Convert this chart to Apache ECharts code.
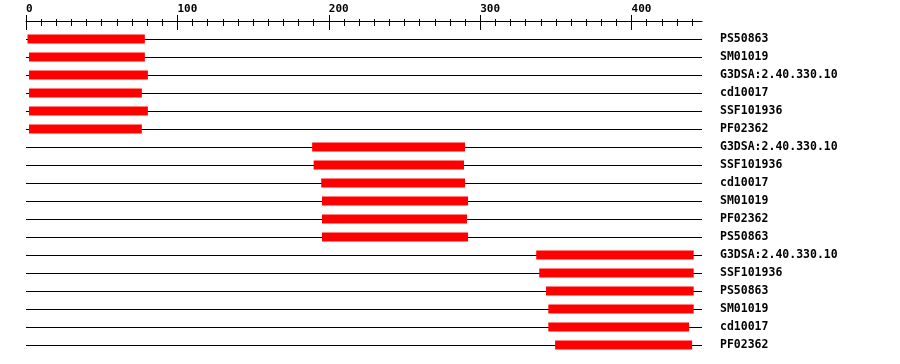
<!DOCTYPE html>
<html><head><meta charset="utf-8">
<script src="https://cdn.jsdelivr.net/npm/echarts@6/dist/echarts.min.js"></script>
<style>html,body{margin:0;padding:0;background:#fff}#c{width:900px;height:364px}</style>
</head><body><div id="c"></div>
<script>
const labels = ["PS50863","SM01019","G3DSA:2.40.330.10","cd10017","SSF101936","PF02362",
  "G3DSA:2.40.330.10","SSF101936","cd10017","SM01019","PF02362","PS50863",
  "G3DSA:2.40.330.10","SSF101936","PS50863","SM01019","cd10017","PF02362"];
const starts = [1,2,2,2,2,2, 189,190,195,195.5,195.5,195.5, 337,339,343.5,345,345,349.5];
const ends   = [78.5,78.5,80.5,76.5,80.5,76.5, 290,289.3,290,292,291.3,292, 441,441,441,441,438,440];
const seqLen = 446.5;
const majorTicks = [0,100,200,300,400];
const minorStep = 10;
const minorMax = 440;

const LEFT = 26, WIDTH = 676;
const pxPer = WIDTH / seqLen;
const font = '"DejaVu Sans Mono", monospace';
const cats = labels.map((_, i) => String(i));

const chart = echarts.init(document.getElementById('c'), null, {renderer: 'canvas'});
chart.setOption({
  backgroundColor: '#ffffff',
  animation: false,
  grid: [
    {left: LEFT, top: 39, width: WIDTH, height: 306},
    {left: LEFT, top: 25, width: minorMax * pxPer, height: 1},
    {left: LEFT, top: 29, width: majorTicks[majorTicks.length-1] * pxPer, height: 1}
  ],
  xAxis: [
    {gridIndex: 0, type: 'value', position: 'top', offset: 18, min: 0, max: seqLen,
     axisLine: {show: true, lineStyle: {color: '#000', width: 1}},
     axisTick: {show: false}, axisLabel: {show: false}, splitLine: {show: false}},
    {gridIndex: 1, type: 'value', position: 'top', min: 0, max: minorMax, interval: minorStep,
     axisLine: {show: false}, axisTick: {show: true, length: 7, lineStyle: {color: '#000', width: 1}},
     axisLabel: {show: false}, splitLine: {show: false}},
    {gridIndex: 2, type: 'value', position: 'top', min: 0, max: majorTicks[majorTicks.length-1], interval: 100,
     axisLine: {show: false}, axisTick: {show: true, length: 15, lineStyle: {color: '#000', width: 1}},
     axisLabel: {show: true, align: 'left', margin: 14, color: '#000', fontFamily: font, fontWeight: 'bold', fontSize: 11},
     splitLine: {show: false}}
  ],
  yAxis: [
    {gridIndex: 0, type: 'category', data: cats, inverse: true, boundaryGap: false, position: 'right',
     axisLine: {show: false}, axisTick: {show: false},
     axisLabel: {show: true, interval: 0, margin: 18, color: '#000', fontFamily: font, fontWeight: 'bold', fontSize: 11.5,
                 padding: [2, 0, 0, 0], formatter: (v) => labels[+v]},
     splitLine: {show: true, interval: 0, lineStyle: {color: '#000', width: 1}}},
    {gridIndex: 1, type: 'value', show: false},
    {gridIndex: 2, type: 'value', show: false}
  ],
  series: [
    {type: 'bar', xAxisIndex: 0, yAxisIndex: 0, stack: 'dom', barWidth: 9, silent: true,
     itemStyle: {color: 'rgba(0,0,0,0)'}, data: starts},
    {type: 'bar', xAxisIndex: 0, yAxisIndex: 0, stack: 'dom', barWidth: 9, silent: true,
     itemStyle: {color: '#ff0000'}, data: ends.map((e, i) => e - starts[i])}
  ]
});
</script></body></html>
